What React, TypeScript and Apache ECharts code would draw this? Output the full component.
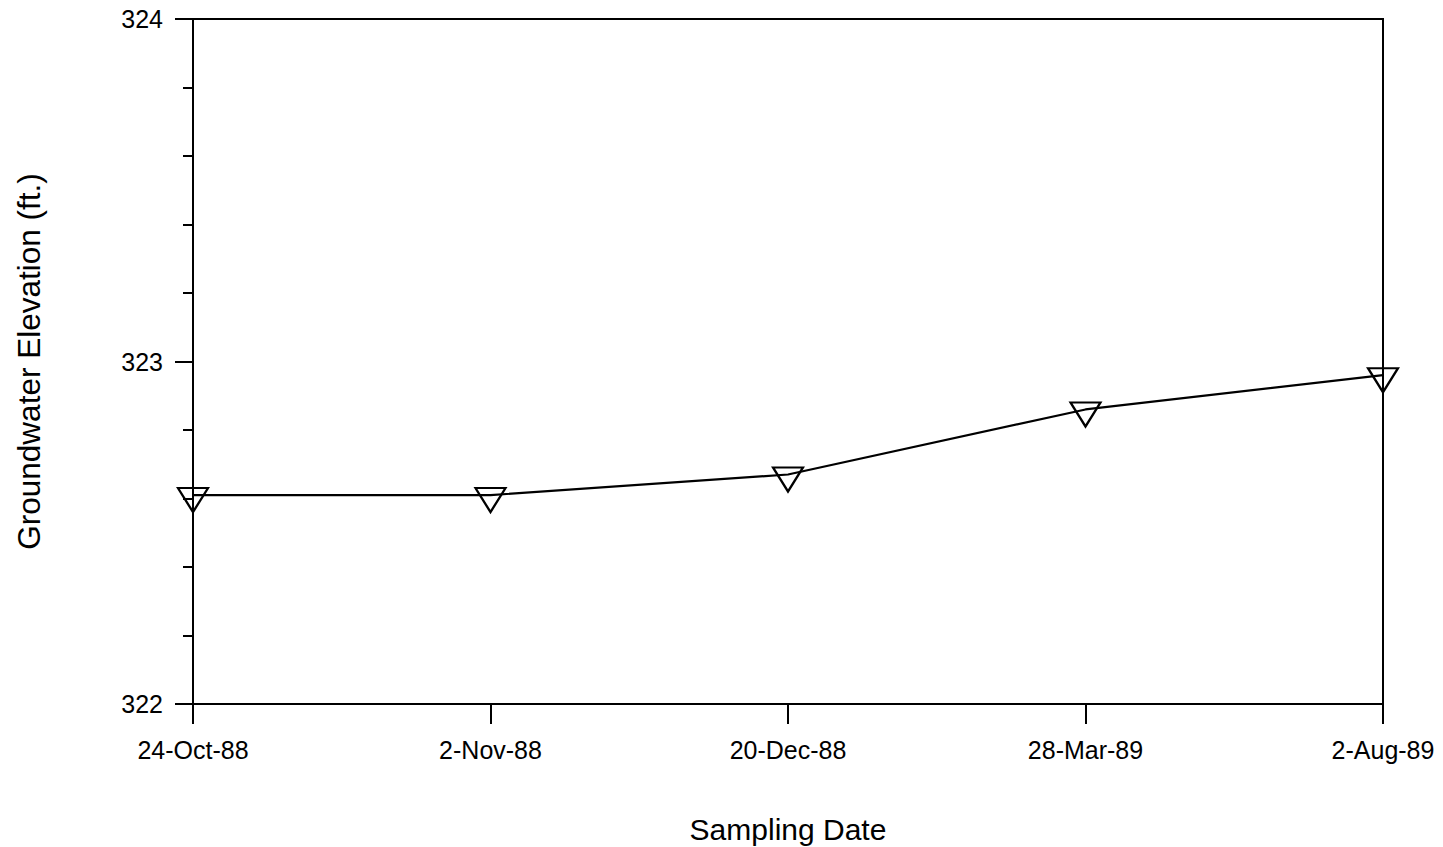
import React, { useEffect, useRef } from "react";
import * as echarts from "echarts";

const categories = ["24-Oct-88", "2-Nov-88", "20-Dec-88", "28-Mar-89", "2-Aug-89"];
const elevations = [322.61, 322.61, 322.67, 322.86, 322.96];
const yMin = 322;
const yMax = 324;
const yInterval = 1;
const xTitle = "Sampling Date";
const yTitle = "Groundwater Elevation (ft.)";

const FONT = "Liberation Sans, Arial, Helvetica, sans-serif";

export default function App() {
  const ref = useRef<HTMLDivElement>(null);
  useEffect(() => {
    if (!ref.current) return;
    const chart = echarts.init(ref.current, null, { renderer: "svg" });
    chart.setOption({
      animation: false,
      backgroundColor: "#ffffff",
      grid: {
        left: 193,
        right: 60,
        top: 19,
        bottom: 143,
        outerBoundsMode: "none",
        containLabel: false,
        show: true,
        borderColor: "#000",
        borderWidth: 2,
        backgroundColor: "transparent",
      },
      xAxis: {
        type: "category",
        data: categories,
        boundaryGap: false,
        name: xTitle,
        nameLocation: "middle",
        nameGap: 110,
        nameTextStyle: { fontFamily: FONT, fontSize: 30, color: "#000" },
        axisLine: { show: true, lineStyle: { color: "#000", width: 2 } },
        axisTick: { show: true, length: 20, lineStyle: { color: "#000", width: 2 } },
        axisLabel: { fontFamily: FONT, fontSize: 25, color: "#000", margin: 33 },
        splitLine: { show: false },
      },
      yAxis: {
        type: "value",
        min: yMin,
        max: yMax,
        interval: yInterval,
        name: yTitle,
        nameLocation: "middle",
        nameGap: 148,
        nameRotate: 90,
        nameTextStyle: { fontFamily: FONT, fontSize: 31.5, color: "#000" },
        axisLine: { show: true, lineStyle: { color: "#000", width: 2 } },
        axisTick: { show: true, length: 18, lineStyle: { color: "#000", width: 2 } },
        minorTick: { show: true, splitNumber: 5, length: 10, lineStyle: { color: "#000", width: 2 } },
        axisLabel: { fontFamily: FONT, fontSize: 25, color: "#000", margin: 30 },
        splitLine: { show: false },
        minorSplitLine: { show: false },
      },
      series: [
        {
          type: "line",
          data: elevations,
          symbol: "triangle",
          symbolRotate: 180,
          symbolSize: [30, 24],
          symbolOffset: [0, 5],
          showAllSymbol: true,
          lineStyle: { color: "#000", width: 2.2 },
          itemStyle: { color: "rgba(255,255,255,0)", borderColor: "#000", borderWidth: 2.2 },
          z: 3,
        },
      ],
    });
    return () => chart.dispose();
  }, []);
  return (
    <div
      ref={ref}
      style={{ position: "absolute", left: 0, top: 0, width: 1443, height: 847 }}
    />
  );
}
